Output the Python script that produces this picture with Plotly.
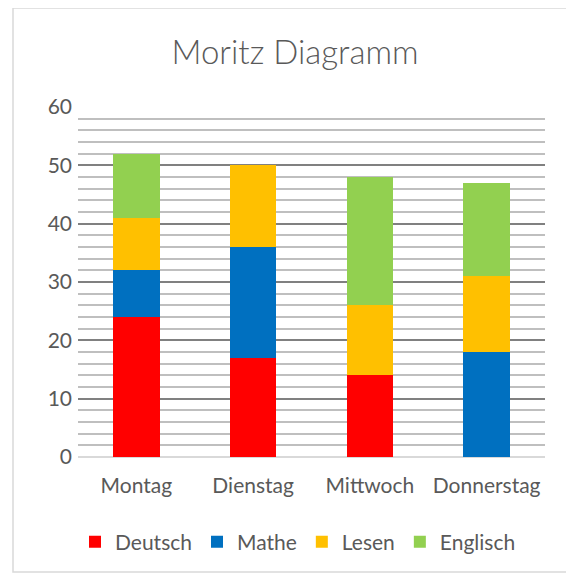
import plotly.graph_objects as go

categories = ["Montag", "Dienstag", "Mittwoch", "Donnerstag"]
deutsch = [24, 17, 14, 0]
mathe = [8, 19, 0, 18]
lesen = [9, 14, 12, 13]
englisch = [11, 0, 22, 16]
series_names = ["Deutsch", "Mathe", "Lesen", "Englisch"]
colors = ["#FF0000", "#0070C0", "#FFC000", "#92D050"]
title_text = "Moritz Diagramm"

FONT = "Lato, 'Open Sans', sans-serif"
TXT = "#595959"

fig = go.Figure()
for name, vals, col in zip(series_names, [deutsch, mathe, lesen, englisch], colors):
    fig.add_trace(go.Bar(x=categories, y=vals, name=name, marker=dict(color=col, line=dict(width=0))))

OFF = 8  # page body margin
W = H = 574 - OFF
PL, PR, PT, PB = 78, 545, 107, 457
L = PL - OFF
R = 574 - PR
T = PT - OFF
B = 574 - PB
pw = PR - PL
ph = PB - PT

def px2x(px):
    return (px - PL) / pw

def py2y(py):
    return (PB - py) / ph

fig.update_layout(
    width=W, height=H,
    barmode="stack", bargap=0.6,
    margin=dict(l=L, r=R, t=T, b=B),
    paper_bgcolor="white", plot_bgcolor="white",
    font=dict(family=FONT, color=TXT, size=21),
    title=dict(text=title_text, x=px2x(295), xref="paper", xanchor="center",
               y=1 - (52 - OFF) / H, yanchor="middle",
               font=dict(family=FONT, size=33, color=TXT, weight=300)),
    showlegend=True,
    legend=dict(orientation="h", x=px2x(298), xanchor="center", y=py2y(542), yanchor="middle",
                font=dict(size=21, color=TXT), traceorder="normal", itemsizing="constant"),
    xaxis=dict(showgrid=False, showline=False, ticks="", ticklabelstandoff=14,
               tickfont=dict(size=21, color=TXT)),
    yaxis=dict(range=[0, 60], dtick=10, showgrid=True, gridcolor="#808080", gridwidth=2,
               zeroline=True, zerolinecolor="#D9D9D9", zerolinewidth=2,
               showline=False, ticks="", ticklabelstandoff=5,
               tickfont=dict(size=21, color=TXT),
               minor=dict(dtick=2, showgrid=True, gridcolor="#BFBFBF", gridwidth=2)),
    shapes=[dict(type="rect", xref="paper", yref="paper",
                 x0=px2x(13), x1=px2x(572), y0=py2y(572), y1=py2y(8),
                 line=dict(color="#D9D9D9", width=1.5), fillcolor="rgba(0,0,0,0)", layer="below")],
)

fig.write_html("out.html")
